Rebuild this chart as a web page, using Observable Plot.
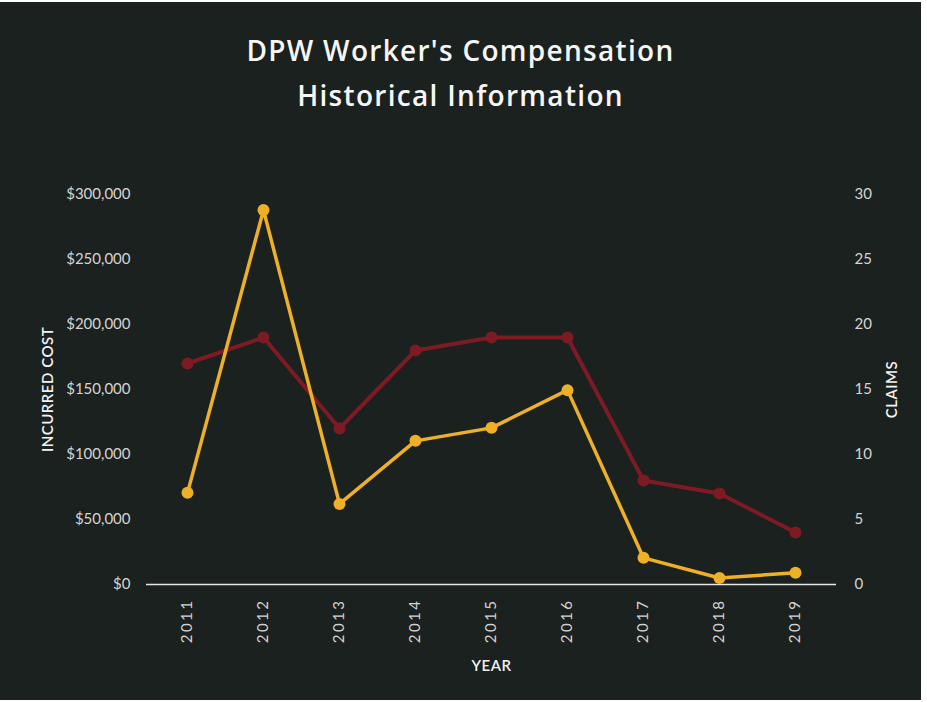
<!DOCTYPE html>
<html>
<head>
<meta charset="utf-8">
<script src="https://cdn.jsdelivr.net/npm/d3@7"></script>
<script src="https://cdn.jsdelivr.net/npm/@observablehq/plot@0.6"></script>
<style>
  html, body { margin: 0; padding: 0; background: #ffffff; }
  #wrap { position: relative; width: 921px; height: 698px; background: #1b211f; overflow: hidden; margin-top: 2px; }
  #title { height: 138px; box-sizing: border-box; padding-top: 26px; text-align: center; color: #f6f6f6;
           font-family: "Open Sans", Lato, sans-serif; font-weight: 600; font-size: 28px; line-height: 45px; letter-spacing: 1.3px; }
  #chart svg { display: block; }
</style>
</head>
<body>
<div id="wrap">
  <div id="title">DPW Worker's Compensation<br>Historical Information</div>
  <div id="chart"></div>
</div>
<script>
const years = [2011, 2012, 2013, 2014, 2015, 2016, 2017, 2018, 2019];
const incurredCost = [70500, 288000, 62000, 110500, 120500, 149500, 20500, 5000, 9000];
const claims = [17, 19, 12, 18, 19, 19, 8, 7, 4];
const costTicks = [0, 50000, 100000, 150000, 200000, 250000, 300000];
const claimsPerCost = 10000; // right axis: 30 claims aligns with $300,000

const costData = years.map((y, i) => ({year: y, value: incurredCost[i]}));
const claimData = years.map((y, i) => ({year: y, value: claims[i] * claimsPerCost}));

const yellow = "#eeb027";
const maroon = "#7d1b24";
const tickColor = "#d4d4d4";

const plot = Plot.plot({
  width: 921,
  height: 560,
  marginTop: 54,
  marginBottom: 116,
  marginLeft: 146,
  marginRight: 85,
  style: {background: "transparent", color: tickColor, fontFamily: "Lato, 'Open Sans', sans-serif", fontSize: "15px", fontWeight: "400"},
  x: {type: "point", domain: years, padding: 0.5},
  y: {domain: [0, 300000]},
  marks: [
    Plot.ruleY([0], {stroke: "#e6e6e6", strokeWidth: 1.5}),
    Plot.axisY(costTicks, {anchor: "left", tickSize: 0, tickPadding: 16,
      tickFormat: d => "$" + d3.format(",")(d), fill: tickColor, fontSize: 15,
      label: "INCURRED COST", labelAnchor: "center", labelArrow: "none", labelOffset: 104}),
    Plot.axisY(costTicks, {anchor: "right", tickSize: 0, tickPadding: 18,
      tickFormat: d => String(d / claimsPerCost), fill: tickColor, fontSize: 15,
      label: "CLAIMS", labelAnchor: "center", labelArrow: "none", labelOffset: 60}),
    Plot.axisX(years, {anchor: "bottom", tickSize: 0, tickPadding: 14, tickRotate: -90,
      tickFormat: d => String(d), fill: tickColor, fontSize: 15,
      label: "YEAR", labelAnchor: "center", labelArrow: "none", labelOffset: 86}),
    Plot.line(claimData, {x: "year", y: "value", stroke: maroon, strokeWidth: 4}),
    Plot.dot(claimData, {x: "year", y: "value", r: 6, fill: maroon}),
    Plot.line(costData, {x: "year", y: "value", stroke: yellow, strokeWidth: 3.5}),
    Plot.dot(costData, {x: "year", y: "value", r: 6, fill: yellow})
  ]
});
document.getElementById("chart").appendChild(plot);
d3.select(plot).selectAll("g[aria-label='x-axis tick label'] text").style("letter-spacing", "2.5px");
d3.select(plot).selectAll("g[aria-label='y-axis label'] text, g[aria-label='x-axis label'] text")
  .attr("fill", "#f2f2f2").style("font-weight", "600").style("font-size", "15px").style("letter-spacing", "0.5px");
</script>
</body>
</html>
